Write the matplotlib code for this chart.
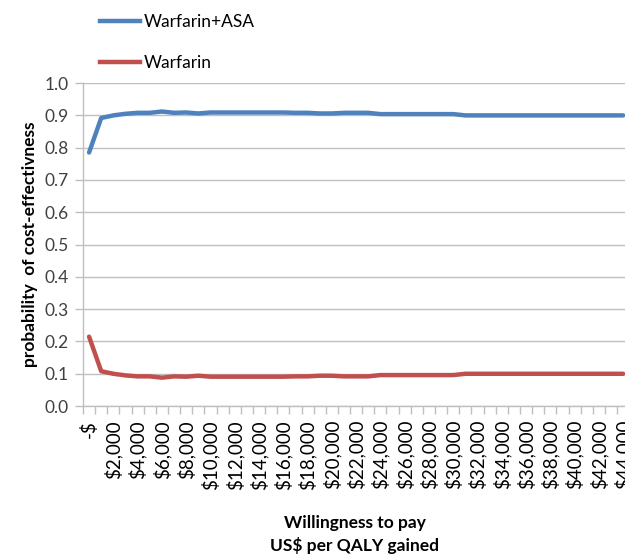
import matplotlib
matplotlib.use("Agg")
import matplotlib.pyplot as plt
from matplotlib.lines import Line2D

plt.rcParams['font.family'] = ['Lato', 'DejaVu Sans']

# willingness to pay, US$ per QALY gained (one category per $1,000)
wtp = list(range(0, 45000, 1000))
wtp_labels = ["-$" if v == 0 else "${:,}".format(v) for v in wtp]

warfarin_asa = [0.785, 0.892, 0.900, 0.905, 0.908, 0.908, 0.912, 0.908, 0.909, 0.906,
                0.909, 0.909, 0.909, 0.909, 0.909, 0.909, 0.909, 0.908, 0.908, 0.906,
                0.906, 0.908, 0.908, 0.908, 0.904, 0.904, 0.904, 0.904, 0.904, 0.904,
                0.904, 0.900, 0.900, 0.900, 0.900, 0.900, 0.900, 0.900, 0.900, 0.900,
                0.900, 0.900, 0.900, 0.900, 0.900]
warfarin = [0.215, 0.108, 0.100, 0.095, 0.092, 0.092, 0.088, 0.092, 0.091, 0.094,
            0.091, 0.091, 0.091, 0.091, 0.091, 0.091, 0.091, 0.092, 0.092, 0.094,
            0.094, 0.092, 0.092, 0.092, 0.096, 0.096, 0.096, 0.096, 0.096, 0.096,
            0.096, 0.100, 0.100, 0.100, 0.100, 0.100, 0.100, 0.100, 0.100, 0.100,
            0.100, 0.100, 0.100, 0.100, 0.100]

blue = "#4F81BD"
red = "#C0504D"
grid = "#BFBFBF"

fig = plt.figure(figsize=(6.25, 5.54), dpi=100)
ax = fig.add_axes([0.1328, 0.267, 0.874, 0.583])

x = list(range(len(wtp)))
ax.plot(x, warfarin_asa, color=blue, lw=3.2, solid_capstyle='round', zorder=3)
ax.plot(x, warfarin, color=red, lw=3.2, solid_capstyle='round', zorder=3)

ax.set_xlim(-0.5, len(wtp) - 0.5)
ax.set_ylim(0, 1.0)
ax.set_yticks([i / 10 for i in range(11)])
ax.set_yticklabels(["{:.1f}".format(i / 10) for i in range(11)], fontsize=12.5, color="#404040")
ax.yaxis.grid(True, color=grid, lw=1)
ax.set_axisbelow(True)
ax.tick_params(axis='y', length=6, color=grid, width=1, pad=4)

ax.set_xticks(x[::2])
ax.set_xticklabels(wtp_labels[::2], rotation=90, fontsize=13.5, va='top')
ax.set_xticks([i - 0.5 for i in range(len(wtp) + 1)], minor=True)
ax.tick_params(axis='x', which='major', length=0, pad=10)
ax.tick_params(axis='x', which='minor', length=6, color=grid, width=1)

for s in ['top', 'right']:
    ax.spines[s].set_visible(False)
for s in ['left', 'bottom']:
    ax.spines[s].set_color(grid)
    ax.spines[s].set_linewidth(1)

ax.set_ylabel("probability  of cost-effectivness", fontsize=12.5, fontweight='bold', labelpad=5)
fig.text(0.568, 0.035, "Willingness to pay\nUS$ per QALY gained", ha='center', va='center',
         fontsize=12.5, fontweight='bold', linespacing=1.45)

handles = [Line2D([], [], color=blue, lw=3.2), Line2D([], [], color=red, lw=3.2)]
fig.legend(handles, ["Warfarin+ASA", "Warfarin"], loc='upper left',
           bbox_to_anchor=(0.16, 0.975), frameon=False, fontsize=12.5,
           borderpad=0, borderaxespad=0,
           handlelength=2.3, handletextpad=0.2, labelspacing=1.45)

fig.savefig("out.png", dpi=100)
